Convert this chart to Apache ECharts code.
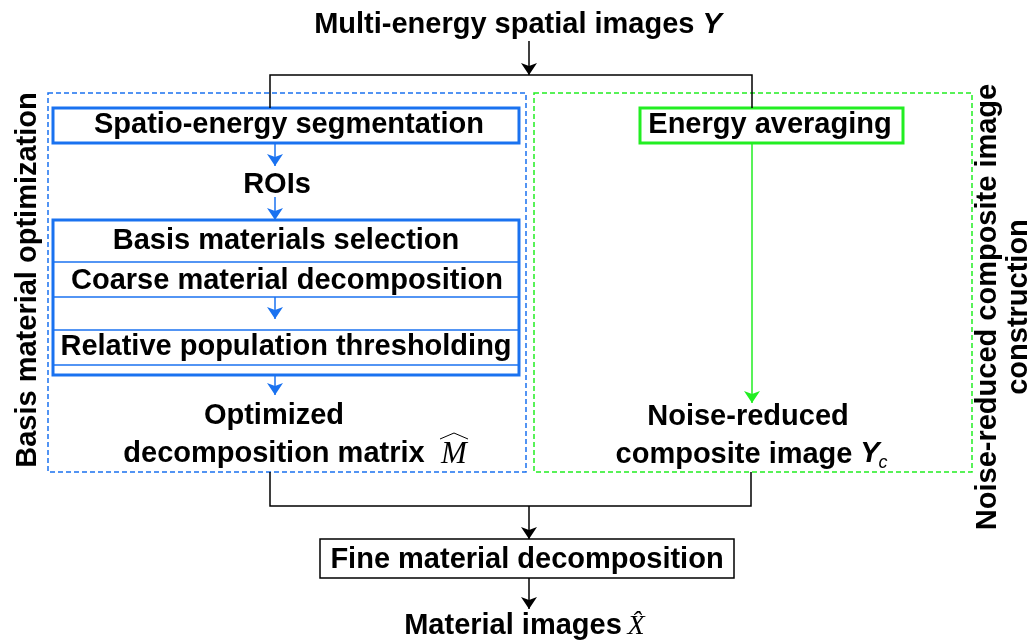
<!DOCTYPE html>
<html>
<head>
<meta charset="utf-8">
<script src="https://cdn.jsdelivr.net/npm/echarts@6/dist/echarts.min.js"></script>
<style>
  html, body { margin: 0; padding: 0; background: #fff; }
  #main { width: 1035px; height: 641px; }
</style>
</head>
<body>
<div id="main"></div>
<script>
// --- diagram text ---
const inputLabel = 'Multi-energy spatial images'
const inputSymbol = 'Y'
const leftPanelTitle = 'Basis material optimization'
const rightPanelTitle = ['Noise-reduced composite image', 'construction']
const segmentationStep = 'Spatio-energy segmentation'
const roiLabel = 'ROIs'
const refineSteps = ['Basis materials selection', 'Coarse material decomposition', 'Relative population thresholding']
const leftResult = ['Optimized', 'decomposition matrix']
const leftSymbol = 'M'
const averagingStep = 'Energy averaging'
const rightResult = ['Noise-reduced', 'composite image']
const rightSymbol = ['Y', 'c']
const finalStep = 'Fine material decomposition'
const outputLabel = 'Material images'
const outputSymbol = 'X\u0302'

const BLUE = '#1a72f0'
const GREEN = '#22ee22'
const BLACK = '#000'
const FONT = 'Liberation Sans, Arial, sans-serif'
const SERIF = 'Liberation Serif, Times New Roman, serif'

// --- layout (canvas pixels, mapped through a hidden 1035x641 grid) ---
const boxes = [
  { x0: 48, y0: 93, x1: 526, y1: 472, color: BLUE, lw: 1.5, dash: true },
  { x0: 534, y0: 93, x1: 972, y1: 472, color: GREEN, lw: 1.5, dash: true },
  { x0: 53, y0: 108, x1: 519, y1: 143, color: BLUE, lw: 3 },
  { x0: 53, y0: 220, x1: 519, y1: 375, color: BLUE, lw: 3 },
  { x0: 640, y0: 108, x1: 903, y1: 143, color: GREEN, lw: 3 },
  { x0: 320, y0: 539, x1: 734, y1: 578, color: BLACK, lw: 1.5 }
]
const rowLines = [262, 297, 330, 365]

// visual (cap-height) centres of each label; shifted to em-box centres below
const bold = { family: FONT, weight: 'bold', style: 'normal', size: 29 }
const texts = [
  { t: inputLabel + ' {i|' + inputSymbol + '}', x: 518, y: 22 },
  { t: segmentationStep, x: 289, y: 122 },
  { t: roiLabel, x: 277, y: 182 },
  { t: refineSteps[0], x: 286, y: 238 },
  { t: refineSteps[1], x: 287, y: 278 },
  { t: refineSteps[2], x: 286, y: 344 },
  { t: leftResult[0], x: 274, y: 413 },
  { t: leftResult[1], x: 274, y: 451 },
  { t: leftSymbol, x: 454, y: 452, family: SERIF, weight: 'normal', style: 'italic', size: 31 },
  { t: averagingStep, x: 770, y: 122 },
  { t: rightResult[0], x: 748, y: 414 },
  { t: rightResult[1], x: 734, y: 452 },
  { t: rightSymbol[0], x: 870, y: 451, style: 'italic' },
  { t: rightSymbol[1], x: 883, y: 460, weight: 'normal', style: 'italic', size: 18 },
  { t: finalStep, x: 527, y: 557 },
  { t: outputLabel, x: 513, y: 623 },
  { t: outputSymbol, x: 636, y: 624, family: SERIF, weight: 'normal', style: 'italic', size: 28 },
  { t: leftPanelTitle, x: 25, y: 280, rot: true },
  { t: rightPanelTitle.join('\n'), x: 1000, y: 307, rot: true, lh: 31 }
]
const capShift = 3

const blackLinks = [
  [[270, 108], [270, 75], [752, 75], [752, 108]],
  [[270, 472], [270, 506], [751, 506], [751, 472]]
]
// wide hat over M
const hatLinks = [
  [[440, 439], [454, 433], [468, 439]]
]
const blackArrows = [
  [[529, 41], [529, 75]],
  [[529, 506], [529, 539]],
  [[529, 578], [529, 609]]
]
const blueArrows = [
  [[275, 143], [275, 166]],
  [[275, 197], [275, 220]],
  [[275, 297], [275, 319]],
  [[275, 375], [275, 395]]
]
const greenArrows = [
  [[752, 143], [752, 403]]
]

function boxItem(params, api) {
  const b = boxes[params.dataIndex]
  const p0 = api.coord([api.value(0), api.value(1)])
  const p1 = api.coord([api.value(2), api.value(3)])
  return {
    type: 'rect',
    shape: { x: p0[0], y: p0[1], width: p1[0] - p0[0], height: p1[1] - p0[1] },
    style: { fill: 'none', stroke: b.color, lineWidth: b.lw, lineDash: b.dash ? [5, 3] : null }
  }
}

function textItem(params, api) {
  const d = texts[params.dataIndex]
  const p = api.coord([api.value(0), api.value(1)])
  const size = d.size || bold.size
  return {
    type: 'text',
    x: p[0] + (d.rot ? capShift : 0),
    y: p[1] + (d.rot ? 0 : capShift),
    rotation: d.rot ? Math.PI / 2 : 0,
    style: {
      text: d.t,
      rich: { i: { fontFamily: FONT, fontWeight: 'bold', fontStyle: 'italic', fontSize: 29 } },
      fontFamily: d.family || bold.family,
      fontWeight: d.weight || bold.weight,
      fontStyle: d.style || bold.style,
      fontSize: size,
      lineHeight: d.lh || size + 1,
      fill: BLACK,
      align: 'center',
      verticalAlign: 'middle'
    }
  }
}

function lineSeries(paths, color, arrow, width) {
  return {
    type: 'lines',
    coordinateSystem: 'cartesian2d',
    polyline: !arrow,
    silent: true,
    symbol: arrow ? ['none', 'arrow'] : ['none', 'none'],
    symbolSize: [9, 12],
    lineStyle: { color: color, width: width || 1.5, opacity: 1 },
    data: paths.map(p => ({ coords: p }))
  }
}

const chart = echarts.init(document.getElementById('main'))
chart.setOption({
  animation: false,
  grid: { left: 0, right: 0, top: 0, bottom: 0 },
  xAxis: { type: 'value', min: 0, max: 1035, show: false },
  yAxis: { type: 'value', min: 0, max: 641, inverse: true, show: false },
  series: [
    {
      type: 'custom',
      clip: false,
      silent: true,
      renderItem: boxItem,
      data: boxes.map(b => [b.x0, b.y0, b.x1, b.y1])
    },
    lineSeries(rowLines.map(y => [[54, y], [518, y]]), BLUE, false),
    lineSeries(blackLinks, BLACK, false),
    lineSeries(hatLinks, BLACK, false, 1),
    lineSeries(blackArrows, BLACK, true),
    lineSeries(blueArrows, BLUE, true),
    lineSeries(greenArrows, GREEN, true),
    {
      type: 'custom',
      clip: false,
      silent: true,
      renderItem: textItem,
      data: texts.map(d => [d.x, d.y])
    }
  ]
})
</script>
</body>
</html>
